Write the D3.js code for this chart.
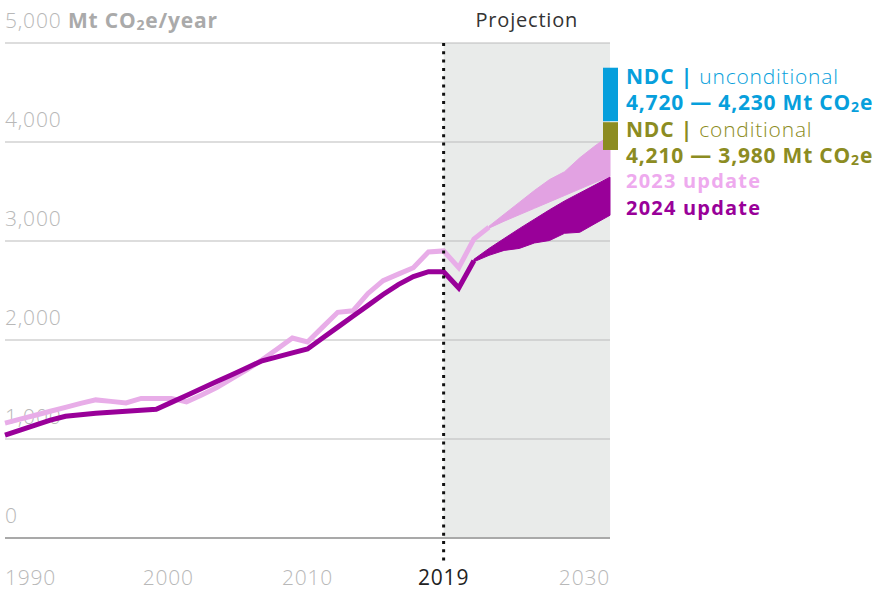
<!DOCTYPE html>
<html>
<head>
<meta charset="utf-8">
<script src="https://cdn.jsdelivr.net/npm/d3@7"></script>
<style>
  body { margin: 0; background: #fff; }
  text { font-family: "Open Sans", sans-serif; letter-spacing: 0.8px; }
</style>
</head>
<body>
<script>
// historical series, one value per year from 1990
var years2023 = d3.range(1990, 2023);
var update2023 = [1160, 1200, 1240, 1280, 1320, 1360, 1395, 1380, 1365, 1410,
                  1410, 1410, 1375, 1445, 1520, 1610, 1700, 1800, 1910, 2020,
                  1980, 2130, 2280, 2295, 2470, 2600, 2665, 2730, 2890, 2900,
                  2730, 3020, 3140];
var years2024 = d3.range(1990, 2022);
var update2024 = [1040, 1090, 1140, 1190, 1230, 1245, 1260, 1270, 1280, 1290,
                  1300, 1370, 1440, 1510, 1580, 1650, 1720, 1790, 1830, 1870,
                  1910, 2020, 2130, 2240, 2350, 2460, 2560, 2640, 2690, 2690,
                  2525, 2800];

// projection ranges
var projYears2023 = [2022, 2023, 2024, 2025, 2026, 2027, 2028, 2029, 2030];
var proj2023High = [3150, 3270, 3390, 3510, 3620, 3700, 3840, 3960, 4070];
var proj2023Low  = [3130, 3200, 3265, 3330, 3395, 3460, 3525, 3590, 3650];
var projYears2024 = [2021, 2022, 2023, 2024, 2025, 2026, 2027, 2028, 2029, 2030];
var proj2024High = [2815, 2925, 3025, 3125, 3220, 3315, 3405, 3485, 3565, 3645];
var proj2024Low  = [2790, 2855, 2905, 2925, 2980, 3005, 3078, 3088, 3175, 3260];

// NDC targets
var ndcUncond = [4720, 4230];
var ndcCond = [4210, 3980];

var yTicks = [0, 1000, 2000, 3000, 4000, 5000];
var yTickLabels = ["0", "1,000", "2,000", "3,000", "4,000", "5,000"];
var xTicks = [1990, 2000, 2010, 2019, 2030];

var W = 873, H = 590;
var x = d3.scaleLinear().domain([1990, 2030]).range([5, 610]);
var y = d3.scaleLinear().domain([0, 5000]).range([538, 43]);

var svg = d3.select("body").append("svg")
    .attr("width", W)
    .attr("height", H);

// projection shading
svg.append("rect")
    .attr("x", x(2019))
    .attr("y", y(5000))
    .attr("width", x(2030) - x(2019))
    .attr("height", y(0) - y(5000))
    .attr("fill", "#e9ebea");

// gridlines
svg.selectAll(".grid")
    .data(yTicks.filter(function(d) { return d > 0; }))
  .enter().append("line")
    .attr("class", "grid")
    .attr("x1", x(1990)).attr("x2", x(2030))
    .attr("y1", function(d) { return y(d); })
    .attr("y2", function(d) { return y(d); })
    .attr("stroke", "#bcbcbc")
    .attr("stroke-width", 1.2);

// y tick labels
svg.selectAll(".ylab")
    .data(yTicks)
  .enter().append("text")
    .attr("class", "ylab")
    .attr("x", 5)
    .attr("y", function(d) { return y(d) - 15; })
    .attr("fill", "#b8b8b8")
    .attr("font-size", 21)
    .attr("font-weight", 300)
    .text(function(d, i) { return yTickLabels[i]; });

svg.append("text")
    .attr("x", 68)
    .attr("y", y(5000) - 15)
    .attr("fill", "#aaaaaa")
    .attr("font-size", 21)
    .attr("font-weight", 700)
    .call(function(t) {
      t.append("tspan").text("Mt CO");
      t.append("tspan").attr("font-size", 14).attr("dy", 2).text("2");
      t.append("tspan").attr("dy", -2).text("e/year");
    });

// bands
var area = d3.area()
    .x(function(d) { return x(d.year); })
    .y0(function(d) { return y(d.low); })
    .y1(function(d) { return y(d.high); });

var band2023 = projYears2023.map(function(yr, i) {
  return {year: yr, low: proj2023Low[i], high: proj2023High[i]};
});
var band2024 = projYears2024.map(function(yr, i) {
  return {year: yr, low: proj2024Low[i], high: proj2024High[i]};
});

svg.append("path")
    .datum(band2023)
    .attr("d", area)
    .attr("fill", "#e2a2e2")
    .attr("stroke", "#e2a2e2")
    .attr("stroke-width", 1);

var line = d3.line()
    .x(function(d) { return x(d[0]); })
    .y(function(d) { return y(d[1]); });

svg.append("path")
    .datum(years2023.map(function(yr, i) { return [yr, update2023[i]]; }))
    .attr("d", line)
    .attr("fill", "none")
    .attr("stroke", "#e8ade8")
    .attr("stroke-width", 5);

svg.append("path")
    .datum(band2024)
    .attr("d", area)
    .attr("fill", "#990099")
    .attr("stroke", "#990099")
    .attr("stroke-width", 1);

svg.append("path")
    .datum(years2024.map(function(yr, i) { return [yr, update2024[i]]; }))
    .attr("d", line)
    .attr("fill", "none")
    .attr("stroke", "#990099")
    .attr("stroke-width", 5);

// baseline
svg.append("line")
    .attr("x1", x(1990)).attr("x2", x(2030))
    .attr("y1", y(0)).attr("y2", y(0))
    .attr("stroke", "#a9a9a9")
    .attr("stroke-width", 2);

// 2019 divider
svg.append("line")
    .attr("x1", x(2019)).attr("x2", x(2019))
    .attr("y1", y(5000)).attr("y2", 566)
    .attr("stroke", "#111")
    .attr("stroke-width", 3)
    .attr("stroke-dasharray", "3 5.3");

svg.append("text")
    .attr("x", (x(2019) + x(2030)) / 2)
    .attr("y", 27)
    .attr("text-anchor", "middle")
    .attr("fill", "#333")
    .attr("font-size", 20)
    .text("Projection");

// x labels
svg.selectAll(".xlab")
    .data(xTicks)
  .enter().append("text")
    .attr("class", "xlab")
    .attr("x", function(d) { return x(d) + (d === 2000 ? 12 : 0); })
    .attr("y", 585)
    .attr("text-anchor", function(d) {
      return d === 1990 ? "start" : d === 2030 ? "end" : "middle";
    })
    .attr("fill", function(d) { return d === 2019 ? "#222" : "#b8b8b8"; })
    .attr("font-size", 21)
    .attr("font-weight", function(d) { return d === 2019 ? 400 : 300; })
    .text(function(d) { return d; });

// NDC bars
svg.append("rect")
    .attr("x", x(2030) - 7)
    .attr("y", y(ndcUncond[0]) - 3)
    .attr("width", 15)
    .attr("height", y(ndcUncond[1]) - y(ndcUncond[0]) + 5)
    .attr("fill", "#079fdc");
svg.append("rect")
    .attr("x", x(2030) - 7)
    .attr("y", y(ndcCond[0]) + 1)
    .attr("width", 15)
    .attr("height", y(ndcCond[1]) - y(ndcCond[0]) + 5)
    .attr("fill", "#8c8c22");

// legend
var fmt = d3.format(",");
function rangeText(t, vals) {
  t.append("tspan").text(fmt(vals[0]) + " \u2014 " + fmt(vals[1]) + " Mt CO");
  t.append("tspan").attr("font-size", 14).attr("dy", 2).text("2");
  t.append("tspan").attr("dy", -2).text("e");
}

var lg = svg.append("g").attr("transform", "translate(626,0)");
lg.append("text").attr("y", 84).attr("fill", "#079fdc").attr("font-size", 21)
  .call(function(t) {
    t.append("tspan").attr("font-weight", 700).text("NDC | ");
    t.append("tspan").attr("font-weight", 300).text("unconditional");
  });
lg.append("text").attr("y", 110).attr("fill", "#079fdc").attr("font-size", 21)
  .attr("font-weight", 700).call(rangeText, ndcUncond);
lg.append("text").attr("y", 137).attr("fill", "#8c8c22").attr("font-size", 21)
  .call(function(t) {
    t.append("tspan").attr("font-weight", 700).text("NDC | ");
    t.append("tspan").attr("font-weight", 300).text("conditional");
  });
lg.append("text").attr("y", 163).attr("fill", "#8c8c22").attr("font-size", 21)
  .attr("font-weight", 700).call(rangeText, ndcCond);
lg.append("text").attr("y", 188).attr("fill", "#eeaaee").attr("font-size", 20)
  .attr("font-weight", 700).style("letter-spacing", "1.2px").text("2023 update");
lg.append("text").attr("y", 215).attr("fill", "#990099").attr("font-size", 20)
  .attr("font-weight", 700).style("letter-spacing", "1.2px").text("2024 update");
</script>
</body>
</html>
